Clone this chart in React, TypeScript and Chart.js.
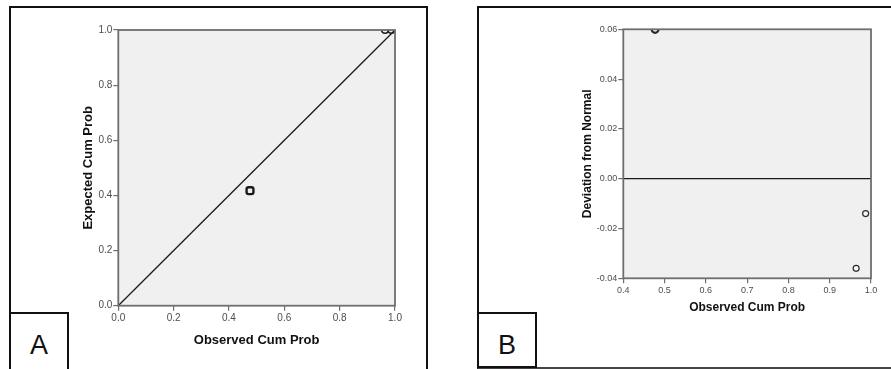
import React, { useEffect, useRef } from "react";
import { Chart, registerables } from "chart.js";

Chart.register(...registerables);

// ---- Data: panel A (P-P plot) ----
const aXTicks = [0, 0.2, 0.4, 0.6, 0.8, 1.0];
const aYTicks = [0, 0.2, 0.4, 0.6, 0.8, 1.0];
const aObserved = [0.476, 0.964, 0.987];
const aExpected = [0.417, 1.0, 1.0];
const aRefX = [0, 1];
const aRefY = [0, 1];

// ---- Data: panel B (detrended P-P plot) ----
const bXTicks = [0.4, 0.5, 0.6, 0.7, 0.8, 0.9, 1.0];
const bYTicks = [-0.04, -0.02, 0.0, 0.02, 0.04, 0.06];
const bObserved = [0.477, 0.964, 0.987];
const bDeviation = [0.06, -0.036, -0.014];
const bRefX = [0.4, 1.0];
const bRefY = [0, 0];

const FONT = "'Liberation Sans', Arial, sans-serif";

const plotFrame = {
  id: "plotFrame",
  beforeDraw(chart: any) {
    const { ctx, chartArea: a } = chart;
    ctx.save();
    ctx.fillStyle = "#f0f0f0";
    ctx.fillRect(a.left, a.top, a.right - a.left, a.bottom - a.top);
    ctx.restore();
  },
  afterDatasetsDraw(chart: any) {
    const { ctx, chartArea: a } = chart;
    ctx.save();
    ctx.strokeStyle = "#6e6e6e";
    ctx.lineWidth = 1.8;
    ctx.strokeRect(a.left, a.top, a.right - a.left, a.bottom - a.top);
    ctx.restore();
  },
};

function axis(opts: {
  min: number;
  max: number;
  ticks: number[];
  decimals: number;
  fit: (s: any) => void;
  title: string;
  titleSize: number;
  titlePad: any;
  tickSize: number;
  tickPad: number;
}) {
  return {
    type: "linear",
    min: opts.min,
    max: opts.max,
    afterBuildTicks: (s: any) => {
      s.ticks = opts.ticks.map((v) => ({ value: v }));
    },
    afterFit: opts.fit,
    ticks: {
      callback: (v: any) => Number(v).toFixed(opts.decimals),
      color: "#4d4d4d",
      font: { family: FONT, size: opts.tickSize },
      padding: opts.tickPad,
      maxRotation: 0,
      autoSkip: false,
    },
    grid: {
      display: true,
      drawOnChartArea: false,
      drawTicks: true,
      tickLength: 5,
      color: "#6e6e6e",
      lineWidth: 1.2,
    },
    border: { display: false },
    title: {
      display: true,
      text: opts.title,
      color: "#111",
      font: { family: FONT, size: opts.titleSize, weight: "bold" },
      padding: opts.titlePad,
    },
  };
}

function configA() {
  return {
    type: "scatter",
    data: {
      datasets: [
        {
          data: aRefX.map((x, i) => ({ x, y: aRefY[i] })),
          showLine: true,
          borderColor: "#1a1a1a",
          borderWidth: 1.3,
          pointRadius: 0,
          clip: 0,
        },
        {
          data: aObserved.map((x, i) => ({ x, y: aExpected[i] })),
          pointStyle: ["rectRounded", "circle", "circle"],
          pointRadius: [4, 3.3, 3.3],
          pointBorderWidth: [2.4, 1.6, 1.6],
          pointBorderColor: "#1a1a1a",
          pointBackgroundColor: "#f0f0f0",
          clip: 0,
        },
      ],
    },
    options: {
      responsive: false,
      animation: false,
      events: [],
      layout: { padding: { top: 30, right: 50, bottom: 0, left: 0 } },
      plugins: { legend: { display: false }, tooltip: { enabled: false } },
      scales: {
        x: axis({
          min: 0, max: 1, ticks: aXTicks, decimals: 1,
          fit: (s: any) => { s.height = 63.3; },
          title: "Observed Cum Prob", titleSize: 13,
          titlePad: { top: 0, bottom: 21.2 }, tickSize: 10, tickPad: 2,
        }),
        y: axis({
          min: 0, max: 1, ticks: aYTicks, decimals: 1,
          fit: (s: any) => { s.width = 118.3; },
          title: "Expected Cum Prob", titleSize: 13,
          titlePad: { top: 80.2, bottom: 0 }, tickSize: 10, tickPad: 1,
        }),
      },
    },
    plugins: [plotFrame],
  };
}

function configB() {
  return {
    type: "scatter",
    data: {
      datasets: [
        {
          data: bRefX.map((x, i) => ({ x, y: bRefY[i] })),
          showLine: true,
          borderColor: "#1a1a1a",
          borderWidth: 1.3,
          pointRadius: 0,
          clip: 0,
        },
        {
          data: bObserved.map((x, i) => ({ x, y: bDeviation[i] })),
          pointStyle: "circle",
          pointRadius: [3.5, 3, 3],
          pointBorderWidth: [2.2, 1.2, 1.2],
          pointBorderColor: "#2a2a2a",
          pointBackgroundColor: "#f7f7f7",
          clip: 0,
        },
      ],
    },
    options: {
      responsive: false,
      animation: false,
      events: [],
      layout: { padding: { top: 29.3, right: 20, bottom: 0, left: 0 } },
      plugins: { legend: { display: false }, tooltip: { enabled: false } },
      scales: {
        x: axis({
          min: 0.4, max: 1.0, ticks: bXTicks, decimals: 1,
          fit: (s: any) => { s.height = 90.7; },
          title: "Observed Cum Prob", titleSize: 12,
          titlePad: { top: 0, bottom: 53.8 }, tickSize: 9, tickPad: 2,
        }),
        y: axis({
          min: -0.04, max: 0.06, ticks: bYTicks, decimals: 2,
          fit: (s: any) => { s.width = 178.3; },
          title: "Deviation from Normal", titleSize: 12,
          titlePad: { top: 135.5, bottom: 0 }, tickSize: 9, tickPad: 1,
        }),
      },
    },
    plugins: [plotFrame],
  };
}

function ChartCanvas({ make, left, width }: { make: () => any; left: number; width: number }) {
  const ref = useRef<HTMLCanvasElement | null>(null);
  useEffect(() => {
    const chart = new Chart(ref.current as HTMLCanvasElement, make());
    return () => chart.destroy();
  }, []);
  return (
    <canvas
      ref={ref}
      width={width}
      height={369}
      style={{ position: "absolute", left, top: 0, width, height: 369 }}
    />
  );
}

export default function App() {
  return (
    <div
      style={{
        position: "absolute",
        left: 0,
        top: 0,
        width: 891,
        height: 369,
        overflow: "hidden",
        background: "#fff",
      }}
    >
      {/* Panel frames */}
      <div
        style={{
          position: "absolute", left: 9, top: 6, width: 415, height: 420,
          border: "2px solid #111",
        }}
      />
      <div
        style={{
          position: "absolute", left: 477, top: 6, width: 480, height: 359,
          borderTop: "2px solid #111", borderLeft: "2px solid #111",
          borderBottom: "2px solid #444",
        }}
      />
      <ChartCanvas make={configA} left={0} width={445} />
      <ChartCanvas make={configB} left={445} width={446} />
      {/* Panel label boxes */}
      <div
        style={{
          position: "absolute", left: 9, top: 312, width: 56, height: 80,
          border: "2px solid #111", background: "#fff",
        }}
      >
        <div
          style={{
            position: "absolute", left: 0, top: 16, width: 56, textAlign: "center",
            fontFamily: FONT, fontSize: 27, lineHeight: "30px", color: "#111",
          }}
        >
          A
        </div>
      </div>
      <div
        style={{
          position: "absolute", left: 477, top: 312, width: 56, height: 52,
          border: "2px solid #111", background: "#fff",
        }}
      >
        <div
          style={{
            position: "absolute", left: 0, top: 16, width: 56, textAlign: "center",
            fontFamily: FONT, fontSize: 27, lineHeight: "30px", color: "#111",
          }}
        >
          B
        </div>
      </div>
    </div>
  );
}
